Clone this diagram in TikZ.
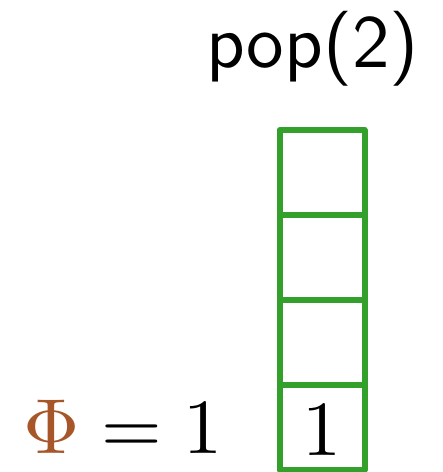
\documentclass[tikz,border=0pt]{standalone}
\usepackage{xcolor}
\definecolor{stackgreen}{RGB}{51,160,44}
\definecolor{phibrown}{RGB}{166,86,40}
\tikzset{
  cell/.style={draw=stackgreen, line width=6pt, line join=round, minimum width=85pt, minimum height=85pt, inner sep=0pt, outer sep=0pt},
  bigmath/.style={inner sep=0pt, scale=7.8},
  bigsans/.style={inner sep=0pt, scale=7.5, font=\sffamily}
}
\begin{document}
\begin{tikzpicture}[x=1pt,y=-1pt]
\useasboundingbox (0,0) rectangle (443,472);
\node[cell] (c1) at (322,172.5) {};
\node[cell] (c2) at (322,257.5) {};
\node[cell] (c3) at (322,342.5) {};
\node[cell] (c4) at (322,427.5) {};
\node[bigmath, anchor=base] (v) at (322,455) {$1$};
\node[bigmath, anchor=base east] (phi) at (224,453) {$\color{phibrown}\Phi\color{black}=1$};
\node[bigsans, anchor=base] (op) at (312.5,67) {pop(2)};
\end{tikzpicture}
\end{document}
